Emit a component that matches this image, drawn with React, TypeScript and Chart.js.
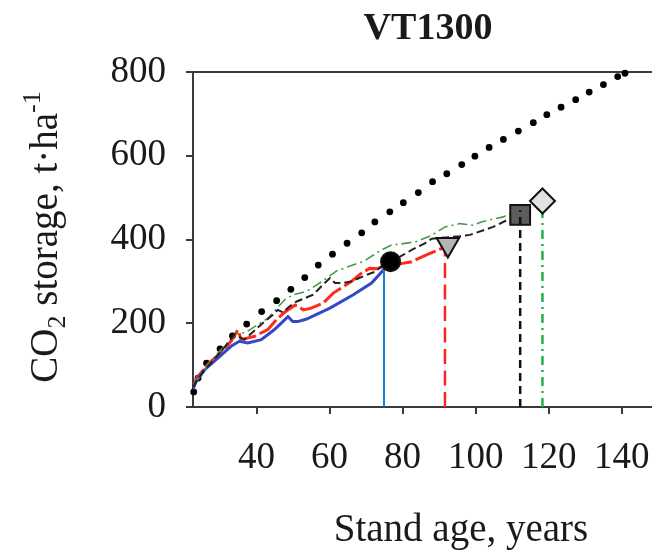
import { useEffect, useRef } from "react";
import { Chart, registerables } from "chart.js";
Chart.register(...registerables);

const FONT = '"Liberation Serif", "Times New Roman", serif';
const AXIS = "#3a3a3a";

// Axis ranges / ticks
const X_MIN = 22.6;
const X_MAX = 148.3;
const xTicks = [40, 60, 80, 100, 120, 140];
const yTicks = [0, 200, 400, 600, 800];

// Dotted reference curve
const dottedAge = [22.8, 24, 26.3, 30, 33.4, 37.3, 41.4, 45.5, 49.4, 53.2, 56.9, 60.8, 64.8, 68.8, 72.4, 76.5, 80.2, 84.3, 88.2, 92.1, 96.2, 99.8, 103.7, 107.6, 111.7, 115.8, 119.5, 123.4, 127.4, 131.1, 135, 138.9, 140.9];
const dottedCO2 = [36, 69, 105, 139, 170, 198, 228, 254, 281, 309, 339, 365, 391, 416, 442, 466, 488, 512, 538, 557, 579, 599, 620, 639, 659, 679, 698, 716, 734, 752, 770, 789, 797];

// Blue (solid)
const blueAge = [22.6, 23.5, 25.8, 29.4, 33, 35.3, 37.6, 41.3, 44.9, 47.7, 48.6, 49.9, 51.3, 53.7, 60.1, 66.5, 71.5, 74.5, 76];
const blueCO2 = [42, 62, 89, 117, 145, 157, 153, 161, 185, 208, 216, 204, 204, 210, 236, 268, 296, 325, 340];

// Red (dashed)
const redAge = [22.6, 23.5, 27, 30.3, 33, 34.9, 35.8, 39.5, 43.1, 45.4, 47.5, 50.5, 51.5, 52.8, 55, 58.2, 61, 63, 66, 68.8, 71, 72.9, 75, 78, 82.5, 87, 91.1];
const redCO2 = [45, 68, 105, 130, 157, 184, 161, 169, 185, 208, 225, 243, 240, 232, 236, 248, 272, 283, 300, 320, 331, 330, 337, 340, 347, 365, 380];

// Black (dashed)
const blackAge = [22.6, 25, 30.3, 34, 36.7, 42.2, 44.5, 45.8, 47.2, 49, 51, 55.5, 58.2, 60.1, 61.5, 63.7, 66, 70, 72.4, 74.2, 77, 79.3, 82.5, 86.1, 88, 92, 95.7, 98.4, 104.8, 108.5, 112.2];
const blackCO2 = [48, 80, 133, 173, 161, 204, 220, 232, 226, 240, 252, 268, 292, 308, 296, 296, 300, 315, 323, 335, 345, 359, 375, 391, 402, 405, 408, 411, 430, 446, 459];

// Green (dash-dot)
const greenAge = [22.6, 25, 30, 34.5, 37, 39.5, 43.1, 45.5, 47.7, 50, 53.7, 58, 61.9, 66, 69.2, 72, 74.2, 77, 79.3, 83.8, 88, 91.6, 95.7, 99.3, 101.6, 103.4, 107.6, 109.4, 113, 118];
const greenCO2 = [50, 82, 135, 175, 178, 192, 212, 235, 256, 268, 276, 300, 325, 338, 347, 363, 375, 387, 389, 395, 410, 430, 438, 434, 442, 446, 454, 462, 472, 490];

// Vertical drop lines (age, top value)
const dropAge = [74.9, 91.6, 112.2, 118.3];
const dropTop = [345, 385, 470, 485];

// End markers
const markerAge = [76.7, 92.4, 112.2, 118.3];
const markerCO2 = [347, 388, 459, 492];

const zip = (xs: number[], ys: number[]) => xs.map((x, i) => ({ x, y: ys[i] }));
const drop = (i: number) => [
  { x: dropAge[i], y: 0 },
  { x: dropAge[i], y: dropTop[i] },
];

const line = (data: any[], color: string, width: number, dash: number[], order: number) => ({
  data,
  showLine: true,
  borderColor: color,
  borderWidth: width,
  borderDash: dash,
  pointRadius: 0,
  fill: false,
  tension: 0,
  order,
});

const marker = (i: number, style: string, radius: number, fillColor: string, rotation = 0, order = 0) => ({
  data: [{ x: markerAge[i], y: markerCO2[i] }],
  showLine: false,
  pointStyle: style,
  pointRadius: radius,
  pointRotation: rotation,
  pointBackgroundColor: fillColor,
  pointBorderColor: "#111",
  pointBorderWidth: 2,
  clip: false,
  order,
});

const textPlugin = {
  id: "texts",
  beforeDatasetsDraw(chart: any) {
    const { ctx, chartArea: ca } = chart;
    ctx.save();
    ctx.strokeStyle = AXIS;
    ctx.lineWidth = 2;
    ctx.beginPath();
    ctx.moveTo(ca.left, ca.top);
    ctx.lineTo(ca.right, ca.top);
    ctx.stroke();
    ctx.restore();
  },
  afterDraw(chart: any) {
    const { ctx } = chart;
    ctx.save();
    ctx.fillStyle = "#1a1a1a";
    // Title
    ctx.font = `bold 38px ${FONT}`;
    ctx.textAlign = "center";
    ctx.textBaseline = "alphabetic";
    ctx.fillText("VT1300", 428, 39);
    // X title
    ctx.font = `39px ${FONT}`;
    ctx.fillText("Stand age, years", 461, 541);
    // Y title (rotated, with sub/superscript)
    const parts = [
      { t: "CO", s: 39, dy: 0 },
      { t: "2", s: 26, dy: 8 },
      { t: " storage, t\u00B7ha", s: 39, dy: 0 },
      { t: "-1", s: 26, dy: -17 },
    ];
    let total = 0;
    for (const p of parts) {
      ctx.font = `${p.s}px ${FONT}`;
      total += ctx.measureText(p.t).width;
    }
    ctx.translate(57, 237);
    ctx.rotate(-Math.PI / 2);
    ctx.textAlign = "left";
    let x = -total / 2;
    for (const p of parts) {
      ctx.font = `${p.s}px ${FONT}`;
      ctx.fillText(p.t, x, p.dy);
      x += ctx.measureText(p.t).width;
    }
    ctx.restore();
  },
};

export default function App() {
  const ref = useRef<HTMLCanvasElement>(null);
  useEffect(() => {
    const chart = new Chart(ref.current as HTMLCanvasElement, {
      type: "scatter",
      data: {
        datasets: [
          marker(0, "circle", 9.5, "#000", 0, 0),
          marker(1, "triangle", 13, "#b4b4b4", 180, 0),
          { ...line(drop(2), "#111", 2.5, [8, 5], -1) },
          marker(2, "rect", 14, "#5c5c5c", 0, 0),
          marker(3, "rectRot", 12.5, "#e2e2e2", 0, 0),
          line(drop(0), "#1c7fd6", 2, [], 1),
          line(drop(1), "#ff2222", 2.5, [15, 6.5], 1),
          line(drop(3), "#22b04a", 2.5, [9, 5, 2, 5], 1),
          line(zip(blueAge, blueCO2), "#3447c4", 3, [], 3),
          line(zip(redAge, redCO2), "#ff2a1a", 3, [22, 4], 3),
          line(zip(blackAge, blackCO2), "#222", 2, [8, 4], 2),
          line(zip(greenAge, greenCO2), "#4a9a4a", 1.6, [10, 4, 2, 4], 2),
          {
            data: zip(dottedAge, dottedCO2),
            showLine: false,
            pointRadius: 3.4,
            pointBackgroundColor: "#000",
            pointBorderWidth: 0,
            clip: false,
            order: 4,
          },
        ] as any,
      },
      options: {
        responsive: false,
        animation: false,
        devicePixelRatio: 1,
        layout: { autoPadding: false, padding: { top: 72, right: 0, left: 0, bottom: 0 } },
        plugins: { legend: { display: false }, tooltip: { enabled: false }, title: { display: false } },
        events: [],
        scales: {
          x: {
            type: "linear",
            min: X_MIN,
            max: X_MAX,
            afterBuildTicks: (s: any) => {
              s.ticks = xTicks.map((v) => ({ value: v }));
            },
            afterFit: (s: any) => {
              s.height = 149;
              s.paddingLeft = 0;
              s.paddingRight = 0;
            },
            ticks: { font: { family: FONT, size: 37, lineHeight: 2.38 }, color: "#1a1a1a", padding: 0, maxRotation: 0, autoSkip: false },
            grid: { drawOnChartArea: false, drawTicks: true, tickLength: 7, color: AXIS, lineWidth: 2 },
            border: { display: true, color: AXIS, width: 2 },
          },
          y: {
            type: "linear",
            min: 0,
            max: 800,
            afterBuildTicks: (s: any) => {
              s.ticks = yTicks.map((v) => ({ value: v }));
            },
            afterFit: (s: any) => {
              s.width = 193;
              s.paddingTop = 0;
              s.paddingBottom = 0;
            },
            ticks: { font: { family: FONT, size: 37 }, color: "#1a1a1a", padding: 20 },
            grid: { drawOnChartArea: false, drawTicks: true, tickLength: 7, color: AXIS, lineWidth: 2 },
            border: { display: true, color: AXIS, width: 2 },
          },
        },
      } as any,
      plugins: [textPlugin],
    });
    return () => chart.destroy();
  }, []);
  return (
    <div style={{ position: "fixed", left: 0, top: 0, width: 652, height: 556, background: "#fff" }}>
      <canvas ref={ref} width={652} height={556} style={{ display: "block" }} />
    </div>
  );
}
